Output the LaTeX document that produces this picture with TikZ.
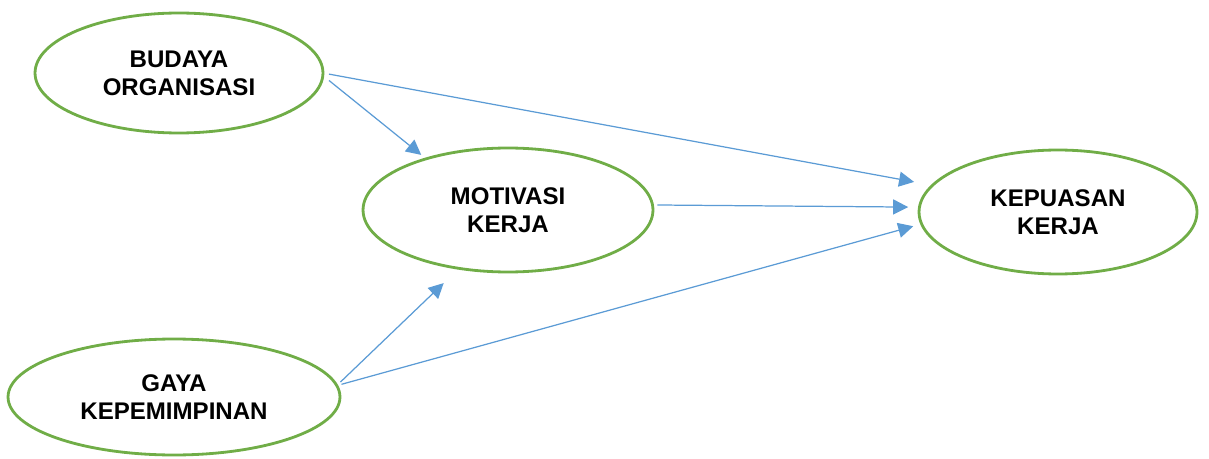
\documentclass[tikz,border=0pt]{standalone}
\usepackage{fontspec}
\setmainfont{Liberation Sans}
\usetikzlibrary{shapes.geometric,arrows.meta}
\definecolor{ovalgreen}{RGB}{112,173,71}
\definecolor{arrowblue}{RGB}{91,155,213}

\begin{document}
\begin{tikzpicture}[x=0.02cm,y=-0.02cm,
	var/.style={ellipse,draw=ovalgreen,line width=1.6pt,inner sep=0pt,outer sep=0pt,align=center,
		font=\fontsize{13.7}{16}\selectfont\bfseries},
	path/.style={draw=arrowblue,line width=0.7pt,-{Triangle[length=0.3cm,width=0.3cm]}}]
	\useasboundingbox (0,0) rectangle (1209,459);
	\node[var,minimum width=5.76cm,minimum height=2.4cm] (budaya) at (179,73) {BUDAYA\\ORGANISASI};
	\node[var,minimum width=5.8cm,minimum height=2.48cm] (motivasi) at (508,210) {MOTIVASI\\KERJA};
	\node[var,minimum width=5.56cm,minimum height=2.48cm] (kepuasan) at (1058,212) {KEPUASAN\\KERJA};
	\node[var,minimum width=6.64cm,minimum height=2.32cm] (gaya) at (174,397) {GAYA\\KEPEMIMPINAN};
	% arrows
	\draw[path,shorten <=0.158cm,shorten >=0.126cm] (budaya.-1.6) -- (motivasi.148.1);
	\draw[path,shorten <=0.122cm,shorten >=0.376cm] (budaya.-0.8) -- (kepuasan.168);
	\draw[path,shorten <=0.098cm,shorten >=0.226cm] (motivasi.2.8) -- (kepuasan.178.4);
	\draw[path,shorten <=0.104cm,shorten >=0.426cm] (gaya.4.4) -- (motivasi.230.3);
	\draw[path,shorten <=0.098cm,shorten >=0.174cm] (gaya.4.85) -- (kepuasan.185.8);
\end{tikzpicture}
\end{document}
